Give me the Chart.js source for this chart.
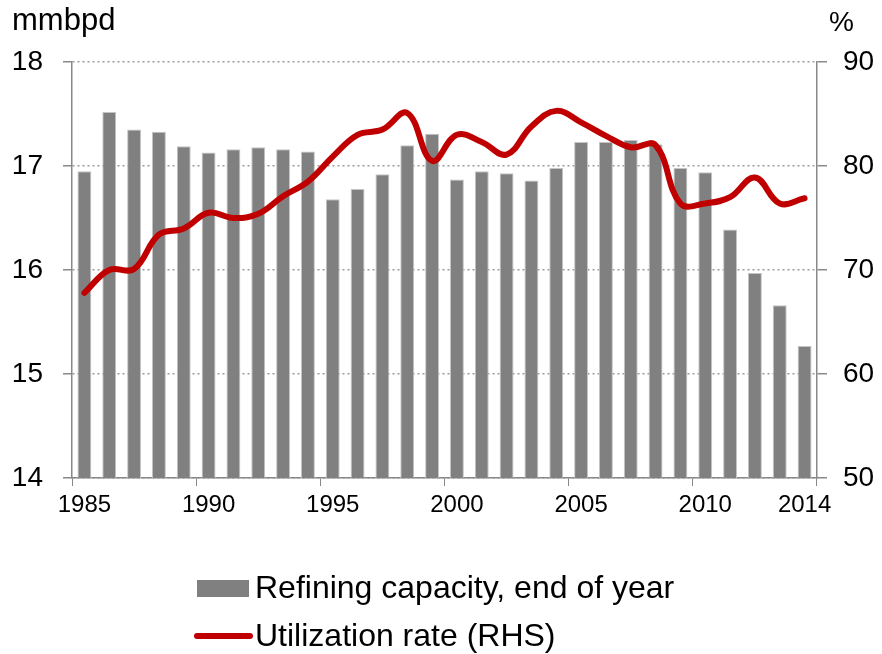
<!DOCTYPE html>
<html>
<head>
<meta charset="utf-8">
<title>Refining capacity and utilization</title>
<script src="https://cdn.jsdelivr.net/npm/chart.js@4/dist/chart.umd.min.js"></script>
<style>
    body { margin: 0; background: #fff; }
    #wrap { width: 882px; height: 654px; }
</style>
</head>
<body>
<div id="wrap"><canvas id="chart" width="882" height="654"></canvas></div>
<script>
// years on the x axis
const years = ["1985", "1986", "1987", "1988", "1989", "1990", "1991", "1992", "1993", "1994",
    "1995", "1996", "1997", "1998", "1999", "2000", "2001", "2002", "2003", "2004",
    "2005", "2006", "2007", "2008", "2009", "2010", "2011", "2012", "2013", "2014"];

// refining capacity at year end, mmbpd (left axis)
const capacity = [16.95, 17.52, 17.35, 17.33, 17.19, 17.13, 17.16, 17.18, 17.16, 17.14,
    16.68, 16.78, 16.92, 17.20, 17.31, 16.87, 16.95, 16.93, 16.86, 16.98,
    17.23, 17.23, 17.25, 17.21, 16.98, 16.94, 16.39, 15.97, 15.66, 15.27];

// utilization rate, % (right axis)
const utilization = [67.8, 70.0, 70.1, 73.4, 74.0, 75.5, 75.0, 75.4, 77.1, 78.5,
    80.9, 83.0, 83.5, 85.1, 80.5, 83.0, 82.3, 81.1, 83.8, 85.3,
    84.2, 82.9, 81.8, 82.0, 76.4, 76.4, 77.0, 78.9, 76.4, 76.9];

// only these years get a label under the axis
const shownYears = ["1985", "1990", "1995", "2000", "2005", "2010", "2014"];

const fontFamily = "'Liberation Sans', Arial, sans-serif";
const axisGray = "#888888";

// unit captions above both axes
const unitLabels = {
    id: "unitLabels",
    afterDraw(chart) {
        const ctx = chart.ctx;
        ctx.save();
        ctx.fillStyle = "#000";
        ctx.textBaseline = "alphabetic";
        ctx.textAlign = "left";
        ctx.font = "31px " + fontFamily;
        ctx.fillText("mmbpd", 12, 30);
        ctx.font = "28px " + fontFamily;
        ctx.fillText("%", 829, 31);
        ctx.restore();
    }
};

// legend stacked in two rows under the chart
const stackedLegend = {
    id: "stackedLegend",
    afterDraw(chart) {
        const ctx = chart.ctx;
        const sets = chart.data.datasets;
        ctx.save();
        ctx.font = "32px " + fontFamily;
        ctx.textBaseline = "middle";

        // bar entry
        ctx.fillStyle = sets[1].backgroundColor;
        ctx.fillRect(197, 580, 52, 17);
        ctx.fillStyle = "#000";
        ctx.fillText(sets[1].label, 255, 589);

        // line entry
        ctx.strokeStyle = sets[0].borderColor;
        ctx.lineWidth = 6;
        ctx.lineCap = "round";
        ctx.beginPath();
        ctx.moveTo(197, 636);
        ctx.lineTo(250, 636);
        ctx.stroke();
        ctx.fillText(sets[0].label, 255, 637);
        ctx.restore();
    }
};

const ctx = document.getElementById("chart").getContext("2d");
new Chart(ctx, {
    data: {
        labels: years,
        datasets: [{
            type: "line",
            label: "Utilization rate (RHS)",
            data: utilization,
            yAxisID: "y1",
            borderColor: "#C00000",
            borderWidth: 6,
            pointRadius: 0,
            tension: 0.4,
            borderCapStyle: "round",
            order: 0
        }, {
            type: "bar",
            label: "Refining capacity, end of year",
            data: capacity,
            yAxisID: "y",
            backgroundColor: "#808080",
            borderColor: "#c4c4c4",
            borderWidth: 1,
            categoryPercentage: 1,
            barPercentage: 0.56,
            order: 1
        }]
    },
    options: {
        responsive: false,
        animation: false,
        layout: { padding: { top: 62, left: 0, right: 0, bottom: 0 } },
        plugins: {
            legend: { display: false },
            tooltip: { enabled: false }
        },
        scales: {
            x: {
                offset: true,
                afterFit: (scale) => { scale.height = 176; },
                grid: {
                    drawOnChartArea: false,
                    tickLength: 8,
                    tickColor: (c) => (c.index === undefined || c.index % 5 === 0) ? axisGray : "rgba(0,0,0,0)"
                },
                border: { color: axisGray, width: 1.5 },
                ticks: {
                    autoSkip: false,
                    maxRotation: 0,
                    padding: 5,
                    color: "#000",
                    font: { family: fontFamily, size: 24 },
                    callback: function (value, index) {
                        const label = this.getLabelForValue(value);
                        return shownYears.includes(label) ? label : "";
                    }
                }
            },
            y: {
                position: "left",
                min: 14,
                max: 18,
                afterFit: (scale) => { scale.width = 72; },
                grid: {
                    color: "#999999",
                    lineWidth: 1.5,
                    tickColor: axisGray,
                    tickLength: 9,
                    tickBorderDash: []
                },
                border: { color: axisGray, width: 1.5, dash: [2, 3] },
                ticks: {
                    stepSize: 1,
                    padding: 20,
                    color: "#000",
                    font: { family: fontFamily, size: 28 }
                }
            },
            y1: {
                position: "right",
                min: 50,
                max: 90,
                afterFit: (scale) => { scale.width = 65; },
                grid: {
                    drawOnChartArea: false,
                    tickColor: axisGray,
                    tickLength: 10,
                    lineWidth: 1.5
                },
                border: { color: axisGray, width: 1.5 },
                ticks: {
                    stepSize: 10,
                    padding: 16,
                    color: "#000",
                    font: { family: fontFamily, size: 28 }
                }
            }
        }
    },
    plugins: [unitLabels, stackedLegend]
});
</script>
</body>
</html>
